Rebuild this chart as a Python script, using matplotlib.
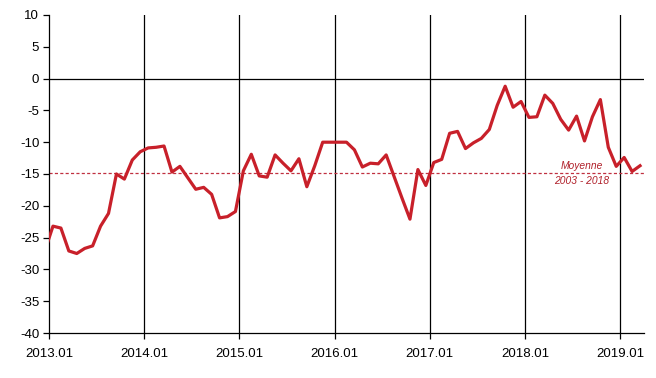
import numpy as np
import matplotlib.pyplot as plt

plt.rcParams['font.family'] = ['Liberation Sans', 'DejaVu Sans']
plt.rcParams['axes.unicode_minus'] = False

# monthly values, first one is 2012.12 (partly hidden left of the axis)
values = [-27.0,
          -23.2, -23.5, -27.1, -27.5, -26.7, -26.3, -23.2, -21.2, -15.0, -15.8, -12.8, -11.5,
          -10.9, -10.8, -10.6, -14.7, -13.8, -15.6, -17.4, -17.1, -18.2, -21.9, -21.7, -20.9,
          -14.5, -11.9, -15.3, -15.5, -12.0, -13.3, -14.5, -12.6, -17.0, -13.7, -10.0, -10.0,
          -10.0, -10.0, -11.2, -13.9, -13.3, -13.4, -12.0, -15.4, -18.8, -22.1, -14.3, -16.8,
          -13.2, -12.7, -8.6, -8.3, -11.0, -10.1, -9.4, -8.0, -4.2, -1.2, -4.5, -3.6,
          -6.1, -6.0, -2.6, -3.9, -6.4, -8.1, -5.9, -9.8, -6.0, -3.3, -10.8, -13.8,
          -12.4, -14.6, -13.7]
mean_value = -14.8
mean_label = ["Moyenne", "2003 - 2018"]
year_labels = ["2013.01", "2014.01", "2015.01", "2016.01", "2017.01", "2018.01", "2019.01"]

# month positions: 2013.01 tick at 0, points drawn at the middle of each month
x = np.arange(len(values)) - 0.5
year_pos = np.arange(len(year_labels)) * 12

red = '#c8202a'

fig = plt.figure(figsize=(6.56, 3.78), dpi=100)
ax = fig.add_axes([49 / 656, 1 - 333 / 378, (644 - 49) / 656, (333 - 15) / 378])

for p in year_pos[1:]:
    ax.axvline(p, color='black', lw=0.9, zorder=1)
ax.axhline(0, color='black', lw=0.9, zorder=1)
ax.axhline(mean_value, color='#c03040', lw=0.9, ls=(0, (2.5, 1.8)), zorder=2)

ax.plot(x, values, color=red, lw=2.3, zorder=3, solid_joinstyle='round')

ax.text(67.2, mean_value + 0.35, mean_label[0], color='#b0202a',
        fontsize=7.4, style='italic', ha='center', va='bottom')
ax.text(67.2, mean_value - 0.5, mean_label[1], color='#b0202a',
        fontsize=7.4, style='italic', ha='center', va='top')

ax.set_xlim(0, 75)
ax.set_ylim(-40, 10)
ax.set_yticks(np.arange(-40, 11, 5))
ax.set_xticks(year_pos)
ax.set_xticklabels(year_labels)

for s in ['top', 'right']:
    ax.spines[s].set_visible(False)
for s in ['left', 'bottom']:
    ax.spines[s].set_linewidth(0.9)

ax.tick_params(axis='y', direction='out', length=4, width=0.9, labelsize=9.5, pad=3)
ax.tick_params(axis='x', direction='out', length=4, width=0.9, labelsize=9.5, pad=7)

fig.savefig('out.png', dpi=100)
